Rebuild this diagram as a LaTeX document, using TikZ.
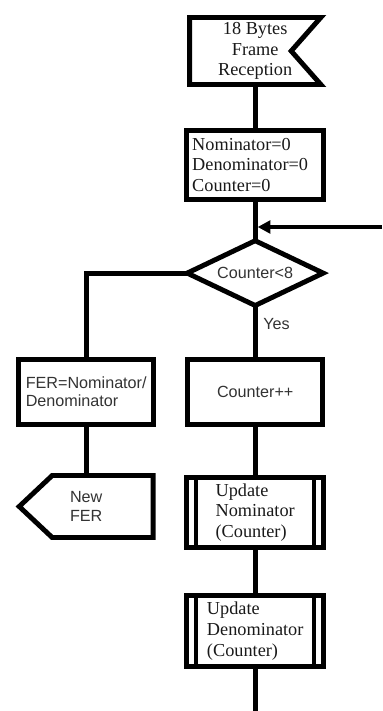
\documentclass[tikz,border=0pt]{standalone}
\usepackage{fontspec}
\setmainfont{Liberation Serif}
\setsansfont{Liberation Sans}
\usetikzlibrary{
	positioning,
	calc,
	arrows.meta,
	shapes.geometric
}

\begin{document}
\begin{tikzpicture}[
	line width=3.5pt,
	serifed/.style={font=\fontsize{13}{14.8}\selectfont, text=black!90},
	sansed/.style={font=\sffamily\fontsize{11.5}{13}\selectfont, text=black!80},
	holder/.style={inner sep=0pt, outer sep=0pt, align=center},
	block/.style={holder, draw, minimum width=3.375cm, minimum height=1.625cm},
	decision/.style={holder, draw, diamond, aspect=2, minimum width=3.4cm, minimum height=1.62cm, sansed},
	subproc/.style={block, minimum width=3.425cm, align=left, serifed,
		path picture={
			\draw[line width=2.8pt] ([xshift=2.4mm]path picture bounding box.north west) -- ([xshift=2.4mm]path picture bounding box.south west);
			\draw[line width=2.8pt] ([xshift=-2.4mm]path picture bounding box.north east) -- ([xshift=-2.4mm]path picture bounding box.south east);
		}},
	arrow/.style={-{Triangle[length=3.2mm, width=3.2mm]}, shorten >=1.75pt}
]
	\useasboundingbox (0,0) rectangle (9.55,-17.775);

	\node[holder, serifed, minimum width=3.28cm, minimum height=1.675cm] (recv) at (6.38,-1.275) {18 Bytes\\Frame\\Reception};
	\node[block, serifed, minimum width=3.425cm, minimum height=1.725cm, text width=3.15cm, align=left, below=1.15cm of recv] (init) {Nominator=0\\Denominator=0\\Counter=0};
	\node[decision, below=1.03cm of init] (cond) {Counter<8};
	\node[block, sansed, below=1.35cm of cond] (count) {Counter++};
	\node[block, sansed, align=left, left=0.85cm of count] (fer) {FER=Nominator/\\Denominator};
	\node[holder, sansed, minimum width=3.35cm, minimum height=1.55cm, below=1.275cm of fer] (newfer) {New\\FER};
	\node[subproc, minimum height=1.75cm, below=1.325cm of count] (updnom) {Update\\Nominator\\(Counter)};
	\node[subproc, minimum height=1.775cm, below=1.2cm of updnom] (upddenom) {Update\\Denominator\\(Counter)};

	\draw (recv.north west) -- (recv.north east) -- ([xshift=-7.4mm]recv.east) -- (recv.south east) -- (recv.south west) -- cycle;
	\draw (newfer.west) -- ([xshift=8.25mm]newfer.north west) -- (newfer.north east) -- (newfer.south east) -- ([xshift=8.25mm]newfer.south west) -- cycle;

	\coordinate (loopin) at (9.55,-5.675);
	\coordinate (join) at (cond.north |- loopin);
	\path (upddenom.south) ++(0,-1.2) coordinate (exit);

	\draw (recv) -- (init);
	\draw (init) -- (cond);
	\draw[arrow] (loopin) -- (join);
	\draw (cond) -- node[sansed, right, pos=0.35, inner sep=4pt] {Yes} (count);
	\draw (cond.west) -| (fer.north);
	\draw (fer) -- (newfer.north -| fer);
	\draw (count) -- (updnom);
	\draw (updnom) -- (upddenom);
	\draw (upddenom) -- (exit);

\end{tikzpicture}
\end{document}
